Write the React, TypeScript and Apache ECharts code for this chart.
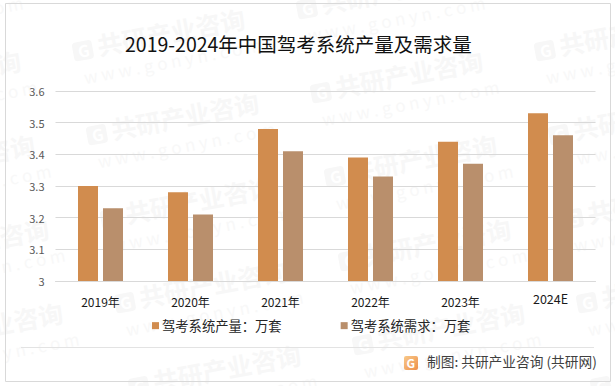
import React, { useEffect, useRef } from "react";
import * as echarts from "echarts";

const titleText = "2019-2024年中国驾考系统产量及需求量";
const categories = ["2019年", "2020年", "2021年", "2022年", "2023年", "2024E"];
const productionName = "驾考系统产量\uFF1A万套";
const demandName = "驾考系统需求\uFF1A万套";
const production = [3.3, 3.28, 3.48, 3.39, 3.44, 3.53];
const demand = [3.23, 3.21, 3.41, 3.33, 3.37, 3.46];
const sourceText = "制图: 共研产业咨询 (共研网)";
const font = '"Noto Sans CJK SC", "Noto Sans", sans-serif';

function watermark(x: number, y: number) {
  return {
    type: "group",
    x,
    y,
    rotation: 0.185,
    silent: true,
    children: [
      { type: "rect", x: 0, y: -9, shape: { width: 20, height: 19, r: 4 }, style: { fill: "#f7f7f7" } },
      { type: "text", x: 5, y: -8, style: { text: "G", font: `bold 16px ${font}`, fill: "#ffffff" } },
      { type: "text", x: 25, y: -15, style: { text: "共研产业咨询", font: `bold 25px ${font}`, fill: "#f7f7f7" } },
      { type: "text", x: 6, y: 18, style: { text: "w w w . g o n y n . c o m", font: `17px ${font}`, fill: "#f8f8f8" } },
    ],
  };
}

function watermarks() {
  const out: any[] = [];
  for (let i = -1; i <= 3; i++) {
    for (let j = -1; j <= 5; j++) {
      const x = 73 + 224 * i + 14 * j;
      const y = 52 - 42 * i + 84 * j;
      if (x > -180 && x < 610 && y > -20 && y < 395) out.push(watermark(x, y));
    }
  }
  return out;
}

export default function App() {
  const ref = useRef<HTMLDivElement>(null);
  useEffect(() => {
    document.body.style.margin = "0";
    const chart = echarts.init(ref.current!, undefined, { renderer: "svg" });
    chart.setOption({
      animation: false,
      backgroundColor: "#ffffff",
      textStyle: { fontFamily: font },
      title: {
        text: titleText,
        left: 125,
        top: 34,
        padding: 0,
        textStyle: { fontSize: 19.5, fontWeight: "normal", color: "#111111", fontFamily: font },
      },
      legend: {
        left: 152,
        top: 319,
        padding: 0,
        itemWidth: 7,
        itemHeight: 7,
        itemGap: 59,
        icon: "rect",
        textStyle: { fontSize: 13.3, color: "#262626", padding: [0, 0, 0, -2], fontFamily: font },
        data: [productionName, demandName],
      },
      grid: { left: 55.5, top: 91, width: 540, height: 190, containLabel: false },
      xAxis: {
        type: "category",
        data: categories.map((c) =>
          c.endsWith("E") ? { value: c, textStyle: { fontSize: 12.5, lineHeight: 6 } } : c
        ),
        axisLine: { show: true, lineStyle: { color: "#d9d9d9", width: 1 } },
        axisTick: { show: false },
        axisLabel: { color: "#1a1a1a", fontSize: 12, margin: 14, interval: 0, fontFamily: font },
      },
      yAxis: {
        type: "value",
        min: 3,
        max: 3.6,
        interval: 0.1,
        axisLine: { show: false },
        axisTick: { show: false },
        axisLabel: {
          color: "#595959",
          fontSize: 11,
          margin: 11,
          fontFamily: font,
          formatter: (v: number) => String(Math.round(v * 10) / 10),
        },
        splitLine: { lineStyle: { color: "#d9d9d9", width: 1 } },
      },
      series: [
        { name: productionName, type: "bar", data: production, barWidth: 20, barGap: "25%", itemStyle: { color: "#d18c4e" } },
        { name: demandName, type: "bar", data: demand, barWidth: 20, barGap: "25%", itemStyle: { color: "#b98f6c" } },
      ],
      graphic: [
        ...watermarks(),
        { type: "rect", silent: true, shape: { x: 5.5, y: 3.5, width: 605, height: 378 }, style: { fill: "none", stroke: "#d9d9d9", lineWidth: 1 } },
        { type: "line", silent: true, shape: { x1: 21, y1: 347.5, x2: 594, y2: 347.5 }, style: { stroke: "#e3e3e3", lineWidth: 1 } },
        {
          type: "rect",
          silent: true,
          shape: { x: 404, y: 356, width: 14, height: 14, r: 2 },
          style: {
            fill: {
              type: "linear", x: 0, y: 0, x2: 1, y2: 1,
              colorStops: [{ offset: 0, color: "#f8c98a" }, { offset: 1, color: "#ee8f4a" }],
            },
          },
        },
        { type: "text", silent: true, x: 406.5, y: 356, style: { text: "G", font: `bold 12px ${font}`, fill: "#ffffff" } },
        { type: "text", silent: true, x: 427, y: 354, style: { text: sourceText, font: `13.7px ${font}`, fill: "#404040" } },
      ],
    });
    return () => chart.dispose();
  }, []);
  return <div ref={ref} style={{ width: 615, height: 386 }} />;
}
